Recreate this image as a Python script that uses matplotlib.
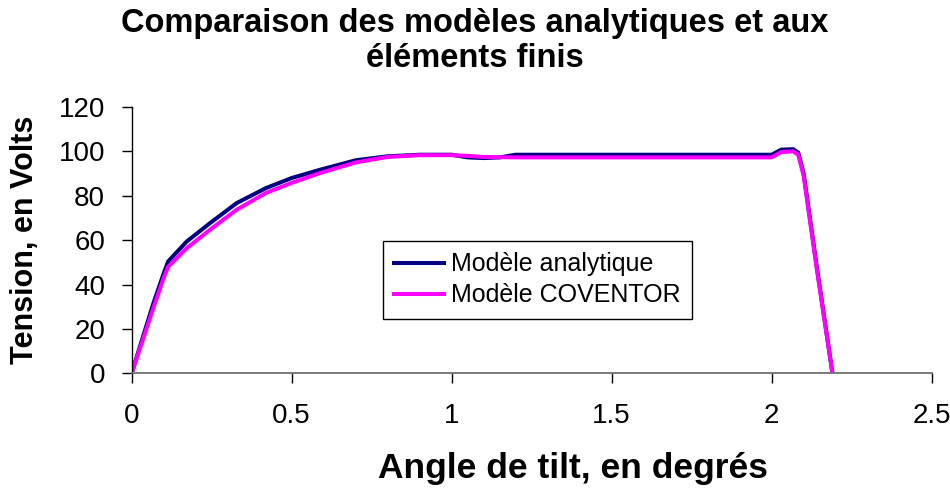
import matplotlib.pyplot as plt
import numpy as np

plt.rcParams['font.family'] = ['Liberation Sans', 'DejaVu Sans']

# angle de tilt (degrés) et tension (V)
angle_analytique = [0, 0.03, 0.068, 0.1, 0.114, 0.172, 0.245, 0.328, 0.42, 0.5, 0.588,
                    0.7, 0.8, 0.9, 1.0, 1.05, 1.1, 1.15, 1.2, 1.5, 2.0, 2.03, 2.067,
                    2.083, 2.1, 2.14, 2.19]
tension_analytique = [0, 14, 31.6, 45, 50.4, 59.4, 67.7, 76.7, 83.5, 88, 91.7,
                      96, 97.8, 98.5, 98.5, 97.3, 97, 97.3, 98.5, 98.5, 98.5, 100.8, 101,
                      99.5, 90, 49, 0]

angle_coventor = [0, 0.03, 0.068, 0.1, 0.114, 0.172, 0.245, 0.328, 0.42, 0.5, 0.588,
                  0.7, 0.8, 0.9, 1.0, 1.05, 1.1, 1.2, 1.5, 2.0, 2.03, 2.067,
                  2.083, 2.1, 2.14, 2.19]
tension_coventor = [0, 13, 29.5, 43, 48, 56.4, 64.7, 73.7, 81.3, 85.8, 90.2,
                    95, 97.5, 98.3, 98.3, 98, 97.5, 97.3, 97.3, 97.3, 99.7, 100,
                    98.5, 89, 48, 0]

xticks = [0, 0.5, 1, 1.5, 2, 2.5]
xticklabels = ['0', '0.5', '1', '1.5', '2', '2.5']
yticks = [0, 20, 40, 60, 80, 100, 120]

fig = plt.figure(figsize=(9.5, 4.88), dpi=100)
ax = fig.add_axes([0.1386, 0.235, 0.8421, 0.5457])

l1, = ax.plot(angle_analytique, tension_analytique, color='#000080', lw=2.9,
              label='Modèle analytique')
l2, = ax.plot(angle_coventor, tension_coventor, color='#FF00FF', lw=2.9,
              label='Modèle COVENTOR')

ax.set_xlim(0, 2.5)
ax.set_ylim(0, 120)
ax.set_xticks(xticks)
ax.set_xticklabels(xticklabels)
ax.set_yticks(yticks)

for s in ['top', 'right']:
    ax.spines[s].set_visible(False)
ax.spines['left'].set_color('black')
ax.spines['bottom'].set_color('#707070')
ax.spines['left'].set_linewidth(1.0)
ax.spines['bottom'].set_linewidth(1.3)
ax.tick_params(axis='both', direction='out', length=7.2, width=1, color='black',
               labelsize=20)
ax.tick_params(axis='x', pad=14)
ax.tick_params(axis='y', pad=12)

ax.set_xlabel('Angle de tilt, en degrés', fontsize=25.5, fontweight='bold')
ax.xaxis.set_label_coords(0.552, -0.297)
ax.xaxis.label.set_va('top')
ax.set_ylabel('Tension, en Volts', fontsize=22, fontweight='bold', labelpad=13.5)
fig.text(0.5, 1 - 8 / 488, 'Comparaison des modèles analytiques et aux\néléments finis',
         ha='center', va='top', fontsize=23.5, fontweight='bold', linespacing=1.15)

leg = fig.legend(handles=[l1, l2], loc='upper left',
                 bbox_to_anchor=(383 / 950, 1 - 241 / 488), borderaxespad=0,
                 fontsize=18, frameon=True, fancybox=False, framealpha=1,
                 edgecolor='black', handlelength=2.0, handletextpad=0.28,
                 borderpad=0.45, labelspacing=0.28)
leg.get_frame().set_linewidth(1.0)

fig.savefig('out.png', dpi=100)
